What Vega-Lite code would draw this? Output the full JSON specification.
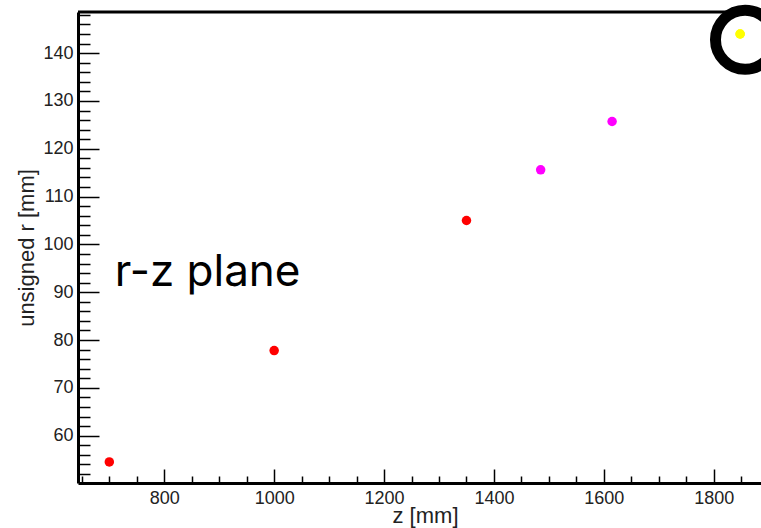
{
  "$schema": "https://vega.github.io/schema/vega-lite/v6.json",
  "autosize": "none",
  "width": 683,
  "height": 471,
  "padding": {"left": 78, "top": 12, "right": 0, "bottom": 45},
  "background": "white",
  "view": {"stroke": null},
  "config": {
    "axis": {
      "domainColor": "black",
      "domainWidth": 3,
      "tickColor": "black",
      "tickWidth": 1.5,
      "grid": false,
      "labelFont": "Liberation Sans",
      "labelColor": "#222",
      "labelFontSize": 18,
      "titleFont": "Liberation Sans",
      "titleColor": "#222",
      "titleFontSize": 22,
      "titleFontWeight": "normal"
    }
  },
  "datasets": {
    "hits": [
      {"z": 700, "r": 54.5, "group": "inner"},
      {"z": 1000, "r": 77.8, "group": "inner"},
      {"z": 1350, "r": 105.0, "group": "inner"},
      {"z": 1485, "r": 115.6, "group": "middle"},
      {"z": 1615, "r": 125.7, "group": "middle"},
      {"z": 1848, "r": 144.0, "group": "outer"}
    ]
  },
  "encoding": {
    "x": {
      "type": "quantitative",
      "scale": {"domain": [643, 1886], "nice": false, "zero": false},
      "axis": {
        "title": "z [mm]",
        "values": [650, 700, 750, 800, 850, 900, 950, 1000, 1050, 1100, 1150, 1200, 1250, 1300, 1350, 1400, 1450, 1500, 1550, 1600, 1650, 1700, 1750, 1800, 1850],
        "labelExpr": "datum.value % 200 === 0 ? datum.label : ''",
        "format": "d",
        "tickSize": {"condition": {"test": "datum.value % 200 === 0", "value": -14}, "value": -7},
        "labelPadding": 20,
        "titleX": 347,
        "titlePadding": -2
      }
    },
    "y": {
      "type": "quantitative",
      "scale": {"domain": [50.1, 148.6], "nice": false, "zero": false},
      "axis": {
        "title": "unsigned r [mm]",
        "values": [52, 54, 56, 58, 60, 62, 64, 66, 68, 70, 72, 74, 76, 78, 80, 82, 84, 86, 88, 90, 92, 94, 96, 98, 100, 102, 104, 106, 108, 110, 112, 114, 116, 118, 120, 122, 124, 126, 128, 130, 132, 134, 136, 138, 140, 142, 144, 146, 148],
        "labelExpr": "datum.value % 10 === 0 ? datum.label : ''",
        "tickSize": {"condition": {"test": "datum.value % 10 === 0", "value": -21}, "value": -12},
        "labelPadding": 26,
        "titlePadding": 4
      }
    }
  },
  "layer": [
    {
      "data": {"values": [{}]},
      "mark": {"type": "rule", "color": "black", "strokeWidth": 3},
      "encoding": {"y": {"datum": 148.6}}
    },
    {
      "data": {"name": "hits"},
      "mark": {"type": "point", "shape": "circle", "filled": true, "size": 90, "opacity": 1},
      "encoding": {
        "x": {"field": "z"},
        "y": {"field": "r"},
        "color": {
          "field": "group",
          "type": "nominal",
          "scale": {"domain": ["inner", "middle", "outer"], "range": ["#ff0000", "#ff00ff", "#ffff00"]},
          "legend": null
        }
      }
    },
    {
      "data": {"values": [{}]},
      "mark": {"type": "point", "shape": "circle", "size": 3500, "stroke": "black", "strokeWidth": 11, "fill": null, "opacity": 1, "filled": false},
      "encoding": {"x": {"datum": 1857}, "y": {"datum": 142.8}}
    },
    {
      "data": {"name": "hits"},
      "transform": [{"filter": "datum.group === 'outer'"}],
      "mark": {"type": "point", "shape": "circle", "filled": true, "size": 90, "opacity": 1, "color": "#ffff00"},
      "encoding": {"x": {"field": "z"}, "y": {"field": "r"}}
    },
    {
      "data": {"values": [{}]},
      "mark": {"type": "text", "text": "r-z plane", "font": "Inter", "fontSize": 44, "color": "black", "align": "left", "baseline": "alphabetic"},
      "encoding": {"x": {"datum": 710}, "y": {"datum": 91.2}}
    }
  ]
}
